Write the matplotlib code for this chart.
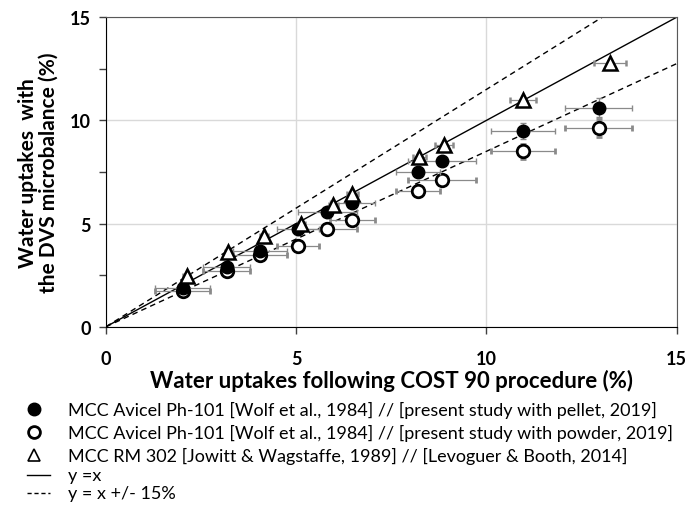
import matplotlib
matplotlib.use("Agg")
import matplotlib.pyplot as plt
from matplotlib.lines import Line2D
import numpy as np

plt.rcParams['font.family'] = ['Lato', 'DejaVu Sans']

# MCC Avicel Ph-101, pellet
pellet_x = [2.02, 3.17, 4.05, 5.05, 5.82, 6.48, 8.21, 8.83, 10.96, 12.95]
pellet_y = [1.90, 2.88, 3.68, 4.72, 5.55, 6.00, 7.50, 8.03, 9.48, 10.62]
pellet_xerr = [0.72, 0.62, 0.72, 0.55, 0.78, 0.60, 0.58, 0.89, 0.84, 0.87]
pellet_yerr = [0.15, 0.15, 0.15, 0.20, 0.20, 0.20, 0.25, 0.25, 0.40, 0.45]

# MCC Avicel Ph-101, powder
powder_x = [2.02, 3.17, 4.05, 5.05, 5.82, 6.48, 8.21, 8.83, 10.96, 12.95]
powder_y = [1.72, 2.72, 3.50, 3.92, 4.75, 5.17, 6.58, 7.12, 8.50, 9.64]
powder_xerr = [0.72, 0.62, 0.72, 0.55, 0.78, 0.60, 0.58, 0.89, 0.84, 0.87]
powder_yerr = [0.15, 0.15, 0.15, 0.20, 0.20, 0.20, 0.25, 0.25, 0.35, 0.45]

# MCC RM 302
rm_x = [2.12, 3.22, 4.15, 5.14, 5.98, 6.48, 8.24, 8.88, 10.97, 13.25]
rm_y = [2.45, 3.60, 4.40, 5.00, 5.88, 6.45, 8.25, 8.82, 10.97, 12.78]
rm_xerr = [0.10, 0.10, 0.10, 0.10, 0.12, 0.15, 0.18, 0.24, 0.34, 0.42]

legend_labels = [
    "MCC Avicel Ph-101 [Wolf et al., 1984] // [present study with pellet, 2019]",
    "MCC Avicel Ph-101 [Wolf et al., 1984] // [present study with powder, 2019]",
    "MCC RM 302 [Jowitt & Wagstaffe, 1989] // [Levoguer & Booth, 2014]",
    "y =x",
    "y = x +/- 15%",
]
tolerance = 0.15
axis_max = 15
ticks = [0, 5, 10, 15]

W, H = 688, 506
fig = plt.figure(figsize=(W / 100, H / 100), dpi=100)
ax = fig.add_axes([106 / W, 1 - 327.7 / H, 570.5 / W, 309.4 / H])

# reference lines y = x and y = x +/- 15 %
ref = np.array([0, axis_max])
ax.plot(ref, ref, color='black', lw=1.0, zorder=2)
ax.plot(ref, ref * (1 + tolerance), color='black', lw=1.0, ls=(0, (4, 3)), zorder=2)
ax.plot(ref, ref * (1 - tolerance), color='black', lw=1.0, ls=(0, (4, 3)), zorder=2)

err_kw = dict(ecolor='#8a8a8a', elinewidth=0.9, capsize=2.5, capthick=0.9, ls='none')

ax.errorbar(powder_x, powder_y, xerr=powder_xerr, yerr=powder_yerr, fmt='o',
            ms=9, mfc='white', mec='black', mew=2.0, zorder=3, **err_kw)
ax.errorbar(pellet_x, pellet_y, xerr=pellet_xerr, yerr=pellet_yerr, fmt='o',
            ms=9, mfc='black', mec='black', mew=1.0, zorder=4, **err_kw)
ax.errorbar(rm_x, rm_y, xerr=rm_xerr, fmt='^',
            ms=9.5, mfc='white', mec='black', mew=1.8, zorder=5, **err_kw)

ax.set_xlim(0, axis_max)
ax.set_ylim(0, axis_max)
ax.set_xticks(ticks)
ax.set_yticks(ticks)
ax.set_yticks([2.5, 7.5, 12.5], minor=True)
ax.grid(True, which='major', color='#d9d9d9', lw=1.0)
ax.set_axisbelow(True)
ax.tick_params(axis='both', which='both', direction='out', length=5, width=1,
               color='#404040', labelsize=13)
ax.tick_params(axis='x', pad=12)
ax.tick_params(axis='y', pad=6)
for lab in ax.get_xticklabels() + ax.get_yticklabels():
    lab.set_fontweight('bold')
for side in ['left', 'bottom']:
    ax.spines[side].set_color('black')
for side in ['top', 'right']:
    ax.spines[side].set_color('#595959')

ax.set_xlabel("Water uptakes following COST 90 procedure (%)", fontsize=16,
              fontweight='bold', labelpad=1)
ax.set_ylabel("Water uptakes  with\nthe DVS microbalance (%)", fontsize=15,
              fontweight='bold', labelpad=8, linespacing=1.05)

# legend below the axes, one row per entry
row_y = [410, 433, 456, 476, 494]
marker_x = 34
text_x = 68
handles = [
    dict(ls='none', marker='o', ms=9, mfc='black', mec='black'),
    dict(ls='none', marker='o', ms=8.5, mfc='white', mec='black', mew=2.0),
    dict(ls='none', marker='^', ms=8.5, mfc='white', mec='black', mew=1.2),
    dict(color='black', lw=1.0),
    dict(color='black', lw=1.0, ls=(0, (3, 2))),
]
for y, style, label in zip(row_y, handles, legend_labels):
    fy = 1 - y / H
    if style.get('marker'):
        xs = [marker_x / W]
        ys = [fy]
    else:
        xs = [27 / W, 50 / W]
        ys = [fy, fy]
    fig.add_artist(Line2D(xs, ys, transform=fig.transFigure, **style))
    fig.text(text_x / W, fy, label, fontsize=13, va='center', ha='left')

fig.savefig("out.png", dpi=100)
